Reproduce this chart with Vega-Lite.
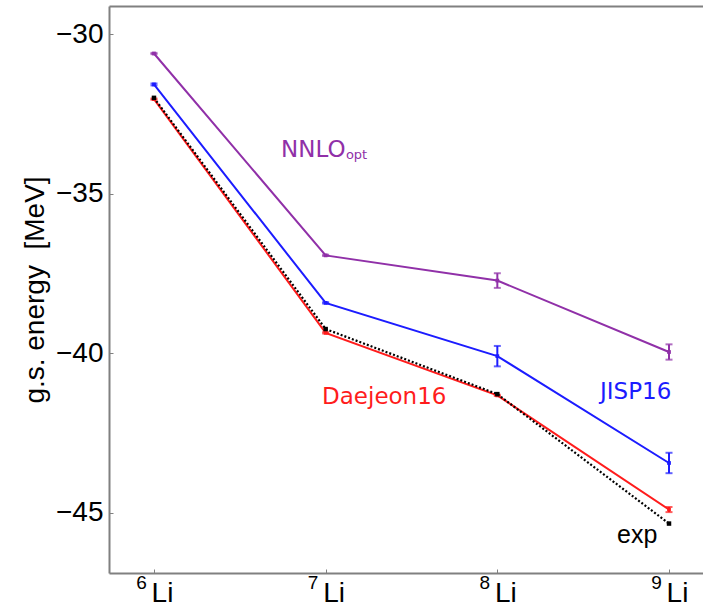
{
  "$schema": "https://vega.github.io/schema/vega-lite/v6.json",
  "width": 594,
  "height": 567,
  "autosize": {"type": "none"},
  "padding": {"left": 109, "top": 6, "right": 0, "bottom": 34},
  "background": "white",
  "config": {
    "view": {"stroke": null},
    "font": "Liberation Sans",
    "axis": {
      "grid": false,
      "domainColor": "#808080",
      "domainWidth": 2,
      "tickColor": "#808080",
      "tickWidth": 1,
      "labelColor": "black",
      "labelFont": "Liberation Sans",
      "titleFont": "Liberation Sans",
      "titleColor": "black",
      "titleFontWeight": "normal"
    }
  },
  "datasets": {
    "energies": [
      {"series": "NNLOopt", "A": 6, "E": -30.60, "lo": -30.62, "hi": -30.58},
      {"series": "NNLOopt", "A": 7, "E": -36.93, "lo": -36.95, "hi": -36.91},
      {"series": "NNLOopt", "A": 8, "E": -37.72, "lo": -37.95, "hi": -37.49},
      {"series": "NNLOopt", "A": 9, "E": -39.96, "lo": -40.20, "hi": -39.72},
      {"series": "JISP16", "A": 6, "E": -31.57, "lo": -31.60, "hi": -31.54},
      {"series": "JISP16", "A": 7, "E": -38.42, "lo": -38.44, "hi": -38.40},
      {"series": "JISP16", "A": 8, "E": -40.09, "lo": -40.41, "hi": -39.77},
      {"series": "JISP16", "A": 9, "E": -43.44, "lo": -43.76, "hi": -43.12},
      {"series": "Daejeon16", "A": 6, "E": -32.03, "lo": -32.05, "hi": -32.01},
      {"series": "Daejeon16", "A": 7, "E": -39.36, "lo": -39.38, "hi": -39.34},
      {"series": "Daejeon16", "A": 8, "E": -41.32, "lo": -41.34, "hi": -41.30},
      {"series": "Daejeon16", "A": 9, "E": -44.90, "lo": -44.98, "hi": -44.82}
    ],
    "experiment": [
      {"series": "exp", "A": 6, "E": -31.99},
      {"series": "exp", "A": 7, "E": -39.24},
      {"series": "exp", "A": 8, "E": -41.28},
      {"series": "exp", "A": 9, "E": -45.34}
    ],
    "labels": [
      {"series": "NNLOopt", "role": "main", "text": "NNLO", "A": 6.740, "E": -33.85},
      {"series": "NNLOopt", "role": "sub", "text": "opt", "A": 7.118, "E": -33.91},
      {"series": "JISP16", "role": "main", "text": "JISP16", "A": 8.598, "E": -41.44},
      {"series": "Daejeon16", "role": "main", "text": "Daejeon16", "A": 6.979, "E": -41.60},
      {"series": "exp", "role": "exp", "text": "exp", "A": 8.697, "E": -45.96}
    ]
  },
  "resolve": {"axis": {"x": "independent"}},
  "layer": [
    {
      "data": {"name": "energies"},
      "mark": {"type": "line", "strokeWidth": 2},
      "encoding": {
        "x": {
          "field": "A", "type": "quantitative",
          "scale": {"domain": [5.738, 9.198], "nice": false, "zero": false},
          "axis": {
            "orient": "bottom",
            "values": [6, 7, 8, 9],
            "labelExpr": "'Li'",
            "labelFontSize": 28,
            "labelPadding": 10,
            "labelOffset": 8,
            "tickSize": -4,
            "title": null
          }
        },
        "y": {
          "field": "E", "type": "quantitative",
          "scale": {"domain": [-46.89, -29.11], "nice": false, "zero": false},
          "axis": {
            "values": [-45, -40, -35, -30],
            "labelFontSize": 28,
            "labelPadding": 10,
            "tickSize": -4,
            "title": "g.s. energy\u00a0 [MeV]",
            "titleFontSize": 28,
            "titlePadding": 6
          }
        },
        "color": {
          "field": "series", "type": "nominal",
          "scale": {"domain": ["NNLOopt", "JISP16", "Daejeon16", "exp"], "range": ["#9030a8", "#1c1cff", "#ff1c1c", "#000000"]},
          "legend": null
        }
      }
    },
    {
      "data": {"name": "energies"},
      "mark": {"type": "rule", "strokeWidth": 2},
      "encoding": {
        "x": {
          "field": "A", "type": "quantitative",
          "axis": {
            "orient": "bottom",
            "values": [6, 7, 8, 9],
            "domain": false,
            "ticks": false,
            "labelFontSize": 19,
            "labelPadding": 0,
            "labelOffset": -13,
            "title": null
          }
        },
        "y": {"field": "lo", "type": "quantitative"},
        "y2": {"field": "hi"},
        "color": {"field": "series", "type": "nominal"}
      }
    },
    {
      "data": {"name": "energies"},
      "mark": {"type": "tick", "orient": "horizontal", "size": 7, "thickness": 2},
      "encoding": {
        "x": {"field": "A", "type": "quantitative", "axis": null},
        "y": {"field": "lo", "type": "quantitative"},
        "color": {"field": "series", "type": "nominal"}
      }
    },
    {
      "data": {"name": "energies"},
      "mark": {"type": "tick", "orient": "horizontal", "size": 7, "thickness": 2},
      "encoding": {
        "x": {"field": "A", "type": "quantitative", "axis": null},
        "y": {"field": "hi", "type": "quantitative"},
        "color": {"field": "series", "type": "nominal"}
      }
    },
    {
      "data": {"name": "energies"},
      "mark": {"type": "point", "shape": "square", "filled": true, "size": 14, "opacity": 1},
      "encoding": {
        "x": {"field": "A", "type": "quantitative", "axis": null},
        "y": {"field": "E", "type": "quantitative"},
        "color": {"field": "series", "type": "nominal"}
      }
    },
    {
      "data": {"name": "experiment"},
      "mark": {"type": "line", "strokeWidth": 2.2, "strokeDash": [2, 2]},
      "encoding": {
        "x": {
          "field": "A", "type": "quantitative",
          "axis": {"orient": "top", "labels": false, "ticks": false, "domain": true, "title": null}
        },
        "y": {"field": "E", "type": "quantitative"},
        "color": {"field": "series", "type": "nominal"}
      }
    },
    {
      "data": {"name": "experiment"},
      "mark": {"type": "point", "shape": "square", "filled": true, "size": 20, "opacity": 1},
      "encoding": {
        "x": {"field": "A", "type": "quantitative", "axis": null},
        "y": {"field": "E", "type": "quantitative"},
        "color": {"field": "series", "type": "nominal"}
      }
    },
    {
      "data": {"name": "labels"},
      "transform": [{"filter": "datum.role === 'main'"}],
      "mark": {"type": "text", "font": "DejaVu Sans", "fontSize": 23, "align": "left", "baseline": "alphabetic"},
      "encoding": {
        "x": {"field": "A", "type": "quantitative", "axis": null},
        "y": {"field": "E", "type": "quantitative"},
        "text": {"field": "text"},
        "color": {"field": "series", "type": "nominal"}
      }
    },
    {
      "data": {"name": "labels"},
      "transform": [{"filter": "datum.role === 'sub'"}],
      "mark": {"type": "text", "font": "DejaVu Sans", "fontSize": 13, "align": "left", "baseline": "alphabetic"},
      "encoding": {
        "x": {"field": "A", "type": "quantitative", "axis": null},
        "y": {"field": "E", "type": "quantitative"},
        "text": {"field": "text"},
        "color": {"field": "series", "type": "nominal"}
      }
    },
    {
      "data": {"name": "labels"},
      "transform": [{"filter": "datum.role === 'exp'"}],
      "mark": {"type": "text", "font": "Liberation Sans", "fontSize": 25, "align": "left", "baseline": "alphabetic"},
      "encoding": {
        "x": {"field": "A", "type": "quantitative", "axis": null},
        "y": {"field": "E", "type": "quantitative"},
        "text": {"field": "text"},
        "color": {"field": "series", "type": "nominal"}
      }
    }
  ]
}
